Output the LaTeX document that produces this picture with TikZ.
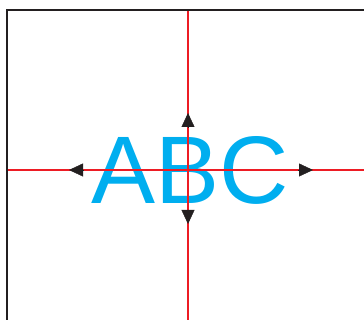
\documentclass[tikz,border=0pt]{standalone}
\usepackage{fontspec}
\setmainfont{Liberation Sans}
\usetikzlibrary{arrows.meta}
\definecolor{guidered}{RGB}{237,28,36}
\definecolor{textcyan}{RGB}{0,174,239}
\definecolor{framegray}{RGB}{35,31,32}

\begin{document}
\begin{tikzpicture}[x=1pt, y=1pt,
    guide/.style={guidered, line width=2.4pt},
    marker/.style={-{Triangle[length=14pt, width=13pt]}, framegray},
    bigtext/.style={textcyan, inner sep=0pt, font=\fontsize{96}{96}\selectfont}]
        \useasboundingbox (0,0) rectangle (364,320);

        % Frame
        \draw[framegray, line width=2pt] (6.5,-5) -- (6.5,309.5) -- (370,309.5);

        % Text
        \node[bigtext, anchor=base] (abc) at (190,116) {ABC};

        % Guides
        \coordinate (west) at (7.5,150);
        \coordinate (east) at (364,150);
        \coordinate (north) at (188,308.5);
        \coordinate (south) at (188,0);
        \draw[guide] (west) -- (east);
        \draw[guide] (north) -- (south);

        % Markers
        \coordinate (lbase) at (83,150);
        \coordinate (ltip) at (69,150);
        \coordinate (rbase) at (298,150);
        \coordinate (rtip) at (313,150);
        \coordinate (ubase) at (188,193);
        \coordinate (utip) at (188,207);
        \coordinate (dbase) at (188,110);
        \coordinate (dtip) at (188,96);
        \draw[marker] (lbase) -- (ltip);
        \draw[marker] (rbase) -- (rtip);
        \draw[marker] (ubase) -- (utip);
        \draw[marker] (dbase) -- (dtip);
    \end{tikzpicture}
\end{document}
